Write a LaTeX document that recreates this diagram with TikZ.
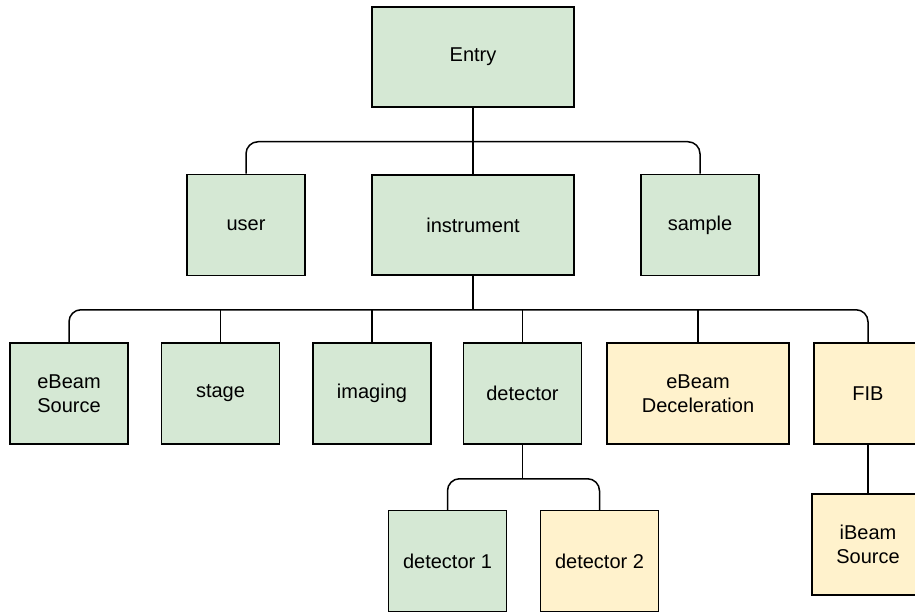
\documentclass[tikz,border=0pt]{standalone}
\usepackage{fontspec}
\setmainfont{Liberation Sans}
\usepackage{tikz}
\usetikzlibrary{shapes, arrows}
\definecolor{donegreen}{HTML}{D5E8D4}
\definecolor{todoyellow}{HTML}{FFF2CC}
\tikzstyle{wide} = [rectangle, minimum width=202pt, minimum height=100pt, text centered, align=center, draw=black, line width=1.5pt, fill=donegreen, font=\fontsize{20}{24.5}\selectfont]
\tikzstyle{part} = [rectangle, minimum width=118pt, minimum height=101pt, text centered, align=center, draw=black, line width=1.5pt, fill=donegreen, font=\fontsize{20}{24.5}\selectfont]
\tikzstyle{newpart} = [part, fill=todoyellow]
\tikzstyle{link} = [line width=1.5pt, rounded corners=12pt]

\begin{document}
\begin{tikzpicture}[node distance=151.5pt, x=1pt, y=1pt]
\useasboundingbox (0,0) rectangle (915,-612);
\node (entry) [wide] at (473,-57) {Entry};
\node (instrument) [wide, below of=entry, node distance=168pt] {instrument};
\node (user) [part, left of=instrument, node distance=227pt] {user};
\node (sample) [part, right of=instrument, node distance=227pt] {sample};

\node (ebsource) [part] at (69,-393.5) {eBeam\\Source};
\node (stage) [part, right of=ebsource] {stage};
\node (imaging) [part, right of=stage] {imaging};
\node (detector) [part, right of=imaging, node distance=150.5pt] {detector};
\node (decel) [newpart, right of=detector, node distance=175.5pt, minimum width=182pt] {eBeam\\Deceleration};
\node (fib) [newpart, right of=decel, node distance=170pt, minimum width=108pt] {FIB};
\node (ibsource) [newpart, below of=fib, node distance=151pt, minimum width=112pt] {iBeam\\Source};

\node (detone) [part] at (447.5,-561) {detector 1};
\node (dettwo) [newpart, right of=detone, node distance=152pt] {detector 2};

\coordinate (entrybus) at ([yshift=-34pt]entry.south);
\coordinate (instbus) at ([yshift=-34pt]instrument.south);
\coordinate (detbus) at ([yshift=-34pt]detector.south);

% top level
\draw [link] (entry.south) -- (instrument.north);
\draw [link] (user.north) |- (entrybus) -| (sample.north);

% instrument parts
\draw [link] (instrument.south) -- (instbus);
\draw [link] (ebsource.north) |- (instbus) -| (fib.north);
\draw [link] (stage.north) -- (stage.north |- instbus);
\draw [link] (imaging.north) -- (imaging.north |- instbus);
\draw [link] (detector.north) -- (detector.north |- instbus);
\draw [link] (decel.north) -- (decel.north |- instbus);

% detectors and FIB
\draw [link] (detector.south) -- (detbus);
\draw [link] (detone.north) |- (detbus) -| (dettwo.north);
\draw [link] (fib.south) -- (ibsource.north);
\end{tikzpicture}
\end{document}
